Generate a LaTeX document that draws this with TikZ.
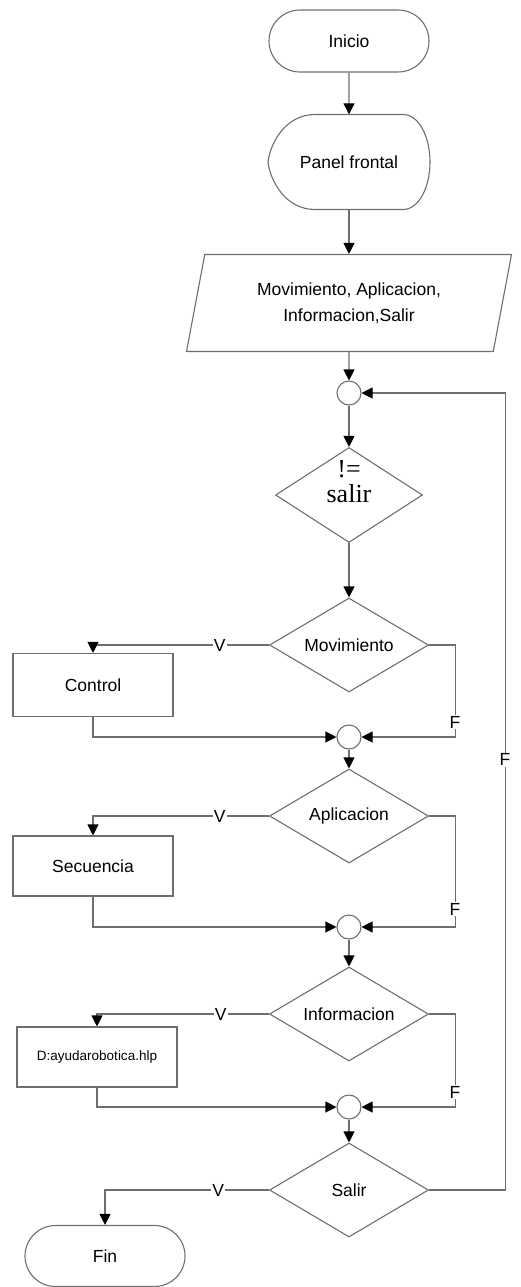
\documentclass[tikz,border=0pt]{standalone}
\usepackage{fontspec}
\setmainfont{Liberation Sans}
\newfontfamily\serifo{Liberation Serif}
\usepackage{tikz}
\usetikzlibrary{shapes}
\usetikzlibrary{arrows.meta}
\definecolor{linegray}{RGB}{110,110,110}
\tikzset{line/.style={draw=linegray, line width=1.1pt}}
\tikzset{flow/.style={line, -{Triangle[length=11pt, width=11pt, color=black]}}}
\tikzset{terminal/.style={rounded rectangle, line, minimum width=160pt, minimum height=62pt, inner sep=0pt}}
\tikzset{process/.style={rectangle, line, minimum width=160pt, minimum height=60pt, inner sep=0pt}}
\tikzset{decision/.style={diamond, line, aspect=1.7, minimum width=159pt, minimum height=94pt, inner sep=0pt}}
\tikzset{junction/.style={circle, line, minimum size=24pt, inner sep=0pt}}
\tikzset{io/.style={trapezium, trapezium left angle=69, trapezium right angle=111, trapezium stretches body, line, minimum width=325pt, minimum height=97pt, align=center}}
\tikzset{lbl/.style={fill=white, inner sep=1pt}}

\begin{document}
\begin{tikzpicture}[x=1pt, y=-1pt, font=\fontsize{17.5}{26}\selectfont]
  \useasboundingbox (0,0) rectangle (520,1287);

  \node[terminal] (ini) at (349, 41) {Inicio};
  \node[minimum width=162pt, minimum height=95pt, inner sep=0pt] (panel) at (349, 162) {Panel frontal};
  \draw[line, shift={(panel.center)}] (-34,-47.5) -- (54,-47.5)
    .. controls (70,-47.5) and (81,-25) .. (81,0)
    .. controls (81,25) and (70,47.5) .. (54,47.5) -- (-34,47.5)
    .. controls (-64,47.5) and (-79,18) .. (-81,0)
    .. controls (-79,-18) and (-64,-47.5) .. (-34,-47.5) -- cycle;
  \node[io] (para) at (349, 303) {Movimiento, Aplicacion,\\Informacion,Salir};

  \foreach \c/\y in {c1/393, c2/737, c3/927, c4/1107} {
    \node[junction] (\c) at (349, \y) {};
  }

  \node[decision, minimum width=147pt, minimum height=95pt] (cond) at (349, 495) {};
  \node[font=\serifo\fontsize{26}{25}\selectfont, align=center] (condtxt) at ([yshift=13pt]cond.center) {!=\\salir};

  \foreach \d/\t/\y in {
    mov/Movimiento/645,
    apl/Aplicacion/816,
    inf/Informacion/1014,
    sal/Salir/1190%
  } {
    \node[decision] (\d) at (349, \y) {\t};
  }

  \node[process, minimum height=63pt] (ctrl) at (93, 685) {Control};
  \node[process] (sec) at (93, 866) {Secuencia};
  \node[process, font=\fontsize{13.5}{16}\selectfont] (ayu) at (97, 1057) {D:ayudarobotica.hlp};
  \node[terminal, minimum height=61pt] (fin) at (105, 1256) {Fin};

  % main column
  \draw[flow] (ini) -- (panel);
  \draw[flow] (panel) -- (para);
  \draw[flow] (para) -- (c1);
  \draw[flow] (c1) -- (cond);
  \draw[flow] (cond) -- (mov);
  \draw[flow] (c2) -- (apl);
  \draw[flow] (c3) -- (inf);
  \draw[flow] (c4) -- (sal);

  % branches
  \foreach \d/\b/\c in {mov/ctrl/c2, apl/sec/c3, inf/ayu/c4} {
    \draw[flow] (\d.west) -| node[lbl, pos=.14] {V} (\b.north);
    \draw[flow] (\b.south) |- (\c.west);
    \draw[flow] (\d.east) -- ++(26,0) |- node[lbl, pos=.42] {F} (\c.east);
  }
  \draw[flow] (sal.west) -| node[lbl, pos=.155] {V} (fin.north);
  \draw[flow] (sal.east) -- ++(76,0) |- node[lbl, pos=.27] {F} (c1.east);
\end{tikzpicture}
\end{document}
